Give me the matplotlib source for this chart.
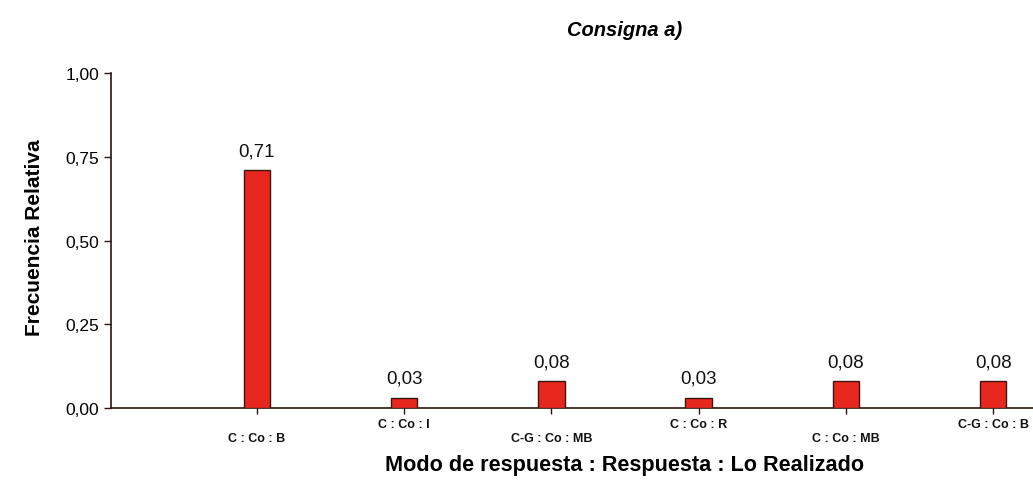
import numpy as np
import matplotlib
matplotlib.use('Agg')
import matplotlib.pyplot as plt

# data
categories = ['C : Co : B', 'C : Co : I', 'C-G : Co : MB', 'C : Co : R', 'C : Co : MB', 'C-G : Co : B']
freq = [0.71, 0.03, 0.08, 0.03, 0.08, 0.08]
value_labels = ['0,71', '0,03', '0,08', '0,03', '0,08', '0,08']
yticks = [0.0, 0.25, 0.5, 0.75, 1.0]
ytick_labels = ['0,00', '0,25', '0,50', '0,75', '1,00']

plt.rcParams['font.family'] = ['Liberation Sans', 'DejaVu Sans']

fig = plt.figure(figsize=(10.33, 4.89), dpi=100)
ax = fig.add_axes([111 / 1033, 1 - 409 / 489, (1033 - 111) / 1033, (409 - 74) / 489])

x = np.arange(len(categories))
ax.bar(x, freq, width=0.18, color='#e8281e', edgecolor='#3a1510', linewidth=1.0, zorder=3)
for xi, v, lab in zip(x, freq, value_labels):
    ax.text(xi, v + 0.033, lab, ha='center', va='bottom', fontsize=13.5, color='#111111')

ax.set_xlim(-0.99, 5.27)
ax.set_ylim(0, 1.0)
ax.set_yticks(yticks)
ax.set_yticklabels(ytick_labels, fontsize=12.5)
ax.set_xticks(x)
ax.set_xticklabels([])
for xi, lab in zip(x, categories):
    ypos = -0.09 if xi % 2 == 0 else -0.047
    ax.text(xi, ypos, lab, ha='center', va='center', fontsize=9, fontweight='bold',
            color='#111111', transform=ax.get_xaxis_transform())

for side in ['top', 'right']:
    ax.spines[side].set_visible(False)
for side in ['left', 'bottom']:
    ax.spines[side].set_color('#2b1510')
    ax.spines[side].set_linewidth(1.2)
ax.tick_params(axis='both', direction='out', length=5, color='#2b1510', width=1.0)
ax.tick_params(axis='x', length=4)
ax.set_facecolor('none')

fig.text(35 / 1033, 1 - 238 / 489, 'Frecuencia Relativa', rotation=90, ha='center', va='center',
         fontsize=15, fontweight='bold')
fig.text(625 / 1033, 1 - 466 / 489, 'Modo de respuesta : Respuesta : Lo Realizado', ha='center',
         va='center', fontsize=15.6, fontweight='bold')
fig.text(625 / 1033, 1 - 30 / 489, 'Consigna a)', ha='center', va='center', fontsize=14.5,
         fontweight='bold', fontstyle='italic')

fig.savefig('out.png', dpi=100, facecolor='white')
